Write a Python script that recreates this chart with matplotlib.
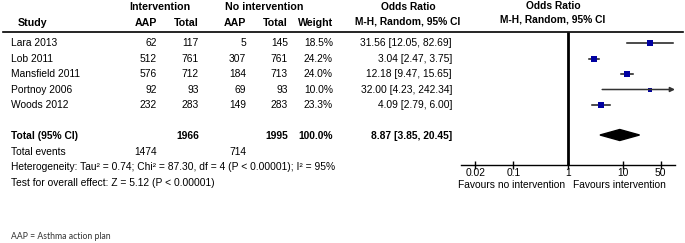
import numpy as np
import matplotlib
matplotlib.use("Agg")
import matplotlib.pyplot as plt
from matplotlib.patches import Polygon

plt.rcParams['font.family'] = ['Liberation Sans', 'DejaVu Sans']

studies = ['Lara 2013', 'Lob 2011', 'Mansfield 2011', 'Portnoy 2006', 'Woods 2012']
int_events = [62, 512, 576, 92, 232]
int_total = [117, 761, 712, 93, 283]
ctl_events = [5, 307, 184, 69, 149]
ctl_total = [145, 761, 713, 93, 283]
weights = [18.5, 24.2, 24.0, 10.0, 23.3]
odds = [31.56, 3.04, 12.18, 32.00, 4.09]
ci_low = [12.05, 2.47, 9.47, 4.23, 2.79]
ci_high = [82.69, 3.75, 15.65, 242.34, 6.00]
pooled = [8.87, 3.85, 20.45]
tot_int, tot_ctl = 1966, 1995
events_int, events_ctl = 1474, 714
tick_vals = [0.02, 0.1, 1, 10, 50]
tick_labels = ['0.02', '0.1', '1', '10', '50']

W, H = 685, 243
fig = plt.figure(figsize=(W / 100, H / 100), dpi=100)
bg = fig.add_axes([0, 0, 1, 1])
bg.set_xlim(0, W)
bg.set_ylim(H, 0)
bg.axis('off')

fs = 7.4
step = 15.5
row_y = [43 + step * i for i in range(len(studies))]
y_total = 43 + step * 6
y_events = y_total + 15.5
y_het = y_events + 15.5
y_test = y_het + 15.5

# headers
bg.text(160, 7, 'Intervention', ha='center', va='center', fontsize=fs + 0.3, fontweight='bold')
bg.text(264, 7, 'No intervention', ha='center', va='center', fontsize=fs + 0.3, fontweight='bold')
bg.text(18, 23, 'Study', ha='left', va='center', fontsize=fs + 0.3, fontweight='bold')
for x, t in [(157, 'AAP'), (199, 'Total'), (246, 'AAP'), (288, 'Total'), (333, 'Weight')]:
    bg.text(x, 23.5, t, ha='right', va='center', fontsize=fs + 0.3, fontweight='bold')
bg.text(408, 7.5, 'Odds Ratio', ha='center', va='center', fontsize=fs, fontweight='bold')
bg.text(408, 22, 'M-H, Random, 95% CI', ha='center', va='center', fontsize=fs, fontweight='bold')
bg.text(553, 6, 'Odds Ratio', ha='center', va='center', fontsize=fs, fontweight='bold')
bg.text(553, 20, 'M-H, Random, 95% CI', ha='center', va='center', fontsize=fs, fontweight='bold')
bg.plot([3, 683], [32, 32], color='black', lw=1.2)

for i, s in enumerate(studies):
    y = row_y[i]
    bg.text(11, y, s, ha='left', va='center', fontsize=fs)
    bg.text(157, y, str(int_events[i]), ha='right', va='center', fontsize=fs)
    bg.text(199, y, str(int_total[i]), ha='right', va='center', fontsize=fs)
    bg.text(246, y, str(ctl_events[i]), ha='right', va='center', fontsize=fs)
    bg.text(288, y, str(ctl_total[i]), ha='right', va='center', fontsize=fs)
    bg.text(333, y, f'{weights[i]:.1f}%', ha='right', va='center', fontsize=fs)
    bg.text(452, y, f'{odds[i]:.2f} [{ci_low[i]:.2f}, {ci_high[i]:.2f}]', ha='right', va='center', fontsize=fs)

bg.text(11, y_total, 'Total (95% CI)', ha='left', va='center', fontsize=fs, fontweight='bold')
bg.text(199, y_total, str(tot_int), ha='right', va='center', fontsize=fs, fontweight='bold')
bg.text(288, y_total, str(tot_ctl), ha='right', va='center', fontsize=fs, fontweight='bold')
bg.text(333, y_total, f'{sum(weights):.1f}%', ha='right', va='center', fontsize=fs, fontweight='bold')
bg.text(452, y_total, f'{pooled[0]:.2f} [{pooled[1]:.2f}, {pooled[2]:.2f}]', ha='right', va='center', fontsize=fs, fontweight='bold')
bg.text(11, y_events, 'Total events', ha='left', va='center', fontsize=fs)
bg.text(157, y_events, str(events_int), ha='right', va='center', fontsize=fs)
bg.text(246, y_events, str(events_ctl), ha='right', va='center', fontsize=fs)
bg.text(11, y_het, 'Heterogeneity: Tau\u00b2 = 0.74; Chi\u00b2 = 87.30, df = 4 (P < 0.00001); I\u00b2 = 95%', ha='left', va='center', fontsize=fs)
bg.text(11, y_test, 'Test for overall effect: Z = 5.12 (P < 0.00001)', ha='left', va='center', fontsize=fs)
bg.text(11, 236, 'AAP = Asthma action plan', ha='left', va='center', fontsize=6.2, family=['Lato', 'DejaVu Sans'], color='#333333')

# forest axes
x0, x1 = 461, 675
ytop, ybot = 32, 165
ax = fig.add_axes([x0 / W, 1 - ybot / H, (x1 - x0) / W, (ybot - ytop) / H])
ax.set_xscale('log')
lo_lim, hi_lim = 10 ** -1.96, 10 ** 1.96
ax.set_xlim(lo_lim, hi_lim)
ax.set_ylim(ybot, ytop)
ax.patch.set_alpha(0)
for sp in ['top', 'right', 'left']:
    ax.spines[sp].set_visible(False)
ax.spines['bottom'].set_linewidth(1.0)
ax.set_yticks([])
ax.set_xticks(tick_vals)
ax.set_xticklabels(tick_labels, fontsize=fs)
ax.minorticks_off()
ax.tick_params(axis='x', direction='inout', length=6, width=1, pad=-1)

ax.plot([1, 1], [ytop, ybot], color='black', lw=2, solid_capstyle='butt')

for i in range(len(studies)):
    y = row_y[i]
    hi = min(ci_high[i], hi_lim)
    if ci_high[i] > hi_lim:
        ax.annotate('', xy=(hi_lim, y), xytext=(ci_low[i], y),
                    arrowprops=dict(arrowstyle='-|>', color='#333333', lw=1.1,
                                    mutation_scale=7, shrinkA=0, shrinkB=0))
    else:
        ax.plot([ci_low[i], hi], [y, y], color='#1a1a1a', lw=1.1)
    side_px = 1.42 * np.sqrt(weights[i])
    ax.plot([odds[i]], [y], marker='s', color='#0000a0', markersize=side_px * 0.72, markeredgewidth=0)

h = 5.5
yd = y_total - 1
ax.add_patch(Polygon([[pooled[1], yd], [pooled[0], yd - h], [pooled[2], yd], [pooled[0], yd + h]],
                     closed=True, color='black', clip_on=False))

bg.text(565, 185, 'Favours no intervention', ha='right', va='center', fontsize=fs)
bg.text(573, 185, 'Favours intervention', ha='left', va='center', fontsize=fs)

fig.savefig('out.png', dpi=100)
